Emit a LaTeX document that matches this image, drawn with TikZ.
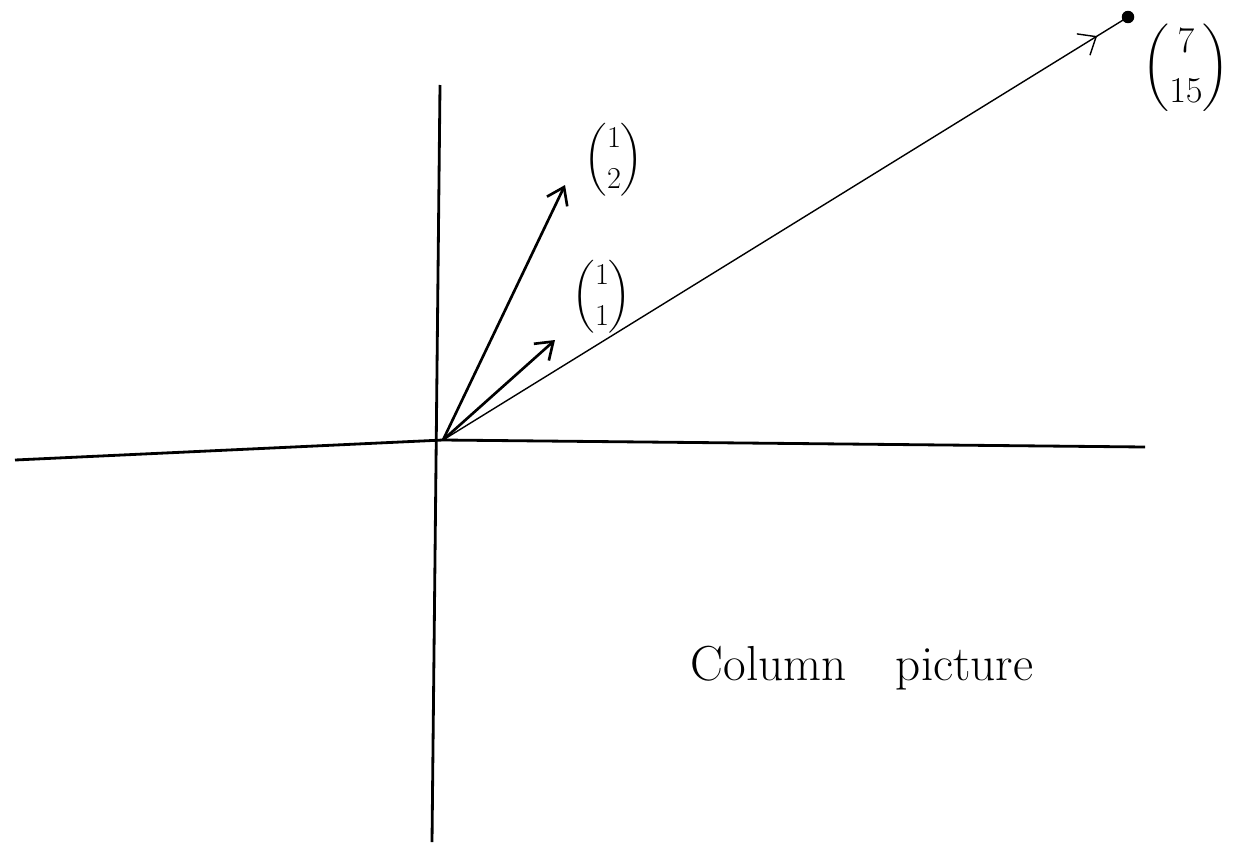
\documentclass[tikz,border=0pt]{standalone}
\usepackage{amsmath,amssymb}
\usepackage{tikz}
\usetikzlibrary{arrows.meta, positioning, decorations.markings}

\begin{document}
\begin{tikzpicture}[
  x=0.02cm, y=-0.02cm,
  axis/.style={line width=1.6pt, black},
  arr/.style={-{Straight Barb[length=3.2mm, width=4.5mm]}, line width=1.5pt, black},
  thinarr/.style={line width=0.8pt, black, postaction={decorate},
    decoration={markings, mark=at position 0.955 with {\arrow{Straight Barb[length=3mm, width=5mm]}}}},
  lbl/.style={inner sep=0pt, font=\LARGE}
]
\useasboundingbox (0,0) rectangle (1243,845);
% axes
\coordinate (O)  at (443,440);
\coordinate (xl) at (15,460);
\coordinate (xr) at (1145,447);
\coordinate (yt) at (440,85);
\coordinate (yb) at (432,842);
\draw[axis] (xl) -- (O) -- (xr);
\draw[axis] (yt) -- (yb);
% vectors
\coordinate (v12) at (565,185);
\coordinate (v11) at (555,340);
\node[circle, fill=black, inner sep=0pt, minimum size=2.5mm] (P) at (1128,17) {};
\draw[arr] (O) -- (v12);
\draw[arr] (O) -- (v11);
\draw[thinarr] (O) -- (P.center);
% labels
\node[lbl] (l12) at (614,160) {$\dbinom{1}{2}$};
\node[lbl] (l11) at (602,297) {$\dbinom{1}{1}$};
\node[lbl, font=\huge] (l715) at (1186,68) {$\dbinom{7}{15}$};
\node[font=\fontsize{28}{34}\selectfont] (title) at (862,668) {Column\quad picture};
\end{tikzpicture}
\end{document}
